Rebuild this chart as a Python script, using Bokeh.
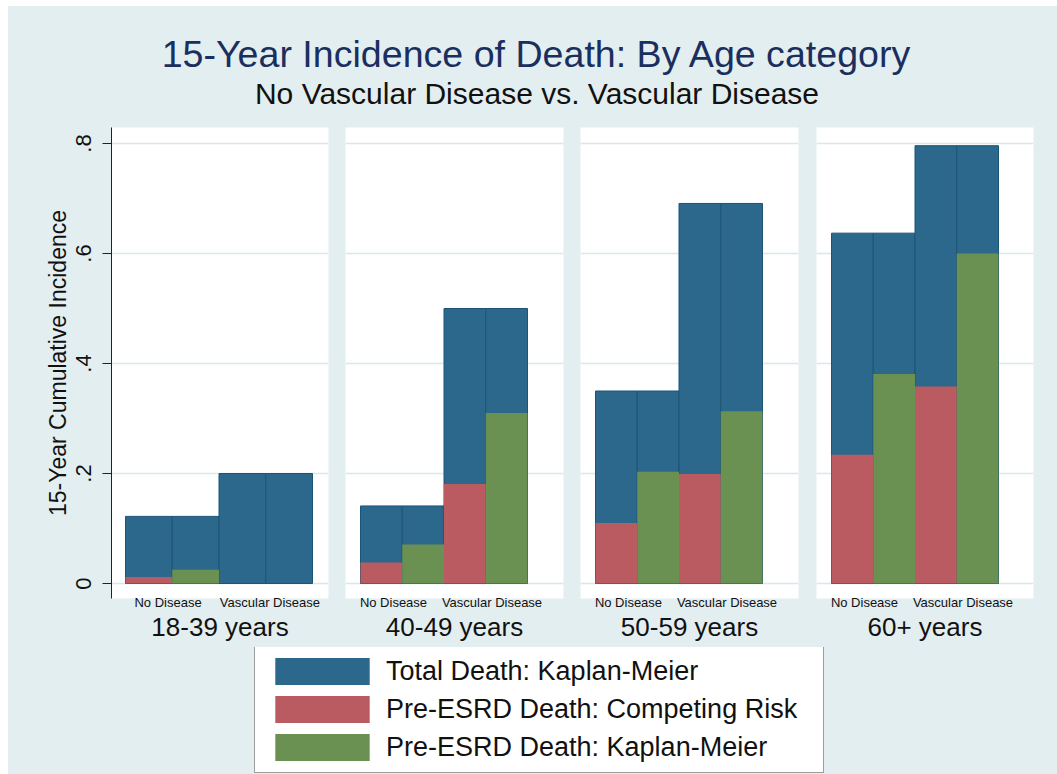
from bokeh.plotting import figure
from bokeh.layouts import row, column
from bokeh.models import (Spacer, FixedTicker, Title, Legend, LegendItem, Range1d,
                          CustomJSTickFormatter, ColumnDataSource)
from bokeh.embed import file_html
from bokeh.resources import INLINE

# ---- data -------------------------------------------------------------
age_groups = ["18-39 years", "40-49 years", "50-59 years", "60+ years"]
disease_groups = ["No Disease", "Vascular Disease"]

total_km_no_disease = [0.122, 0.141, 0.350, 0.637]
total_km_vascular = [0.200, 0.500, 0.691, 0.796]
pre_esrd_cr_no_disease = [0.012, 0.038, 0.110, 0.234]
pre_esrd_cr_vascular = [0.0, 0.181, 0.199, 0.358]
pre_esrd_km_no_disease = [0.025, 0.071, 0.203, 0.381]
pre_esrd_km_vascular = [0.0, 0.310, 0.313, 0.600]

y_ticks = [0, 0.2, 0.4, 0.6, 0.8]
y_tick_labels = ["0", ".2", ".4", ".6", ".8"]

series_labels = ["Total Death: Kaplan-Meier",
                 "Pre-ESRD Death: Competing Risk",
                 "Pre-ESRD Death: Kaplan-Meier"]

main_title = "15-Year Incidence of Death: By Age category"
sub_title = "No Vascular Disease vs. Vascular Disease"
y_title = "15-Year Cumulative Incidence"

# ---- style ------------------------------------------------------------
FONT = "Liberation Sans"
BG = "#e3eef0"
GRID = "#dbe8eb"
BLUE = "#2c688c"
BLUE_EDGE = "#1b5476"
RED = "#ba5a61"
GREEN = "#6a9151"
NAVY = "#1b2f5e"
INK = "#111111"

FRAME_H = 471
PX_PER_Y = 550.0
Y_START = -15 / PX_PER_Y
Y_END = 0.8 + 16 / PX_PER_Y

# per-panel layout (frame width, left border, right border)
frame_w = [217, 218, 218, 217]
border_l = [103, 9, 9, 9]
border_r = [8, 8, 9, 24]
TOP_B, BOTTOM_B = 18, 49


def make_panel(i):
    first = i == 0
    unit = 46.75 if first else 41.75     # pixels per bar
    lead = 14 if first else 15           # gap before first bar
    x0 = -lead / unit
    fw = frame_w[i]
    p = figure(width=border_l[i] + fw + border_r[i], height=TOP_B + FRAME_H + BOTTOM_B,
               min_border_left=border_l[i], min_border_right=border_r[i],
               min_border_top=TOP_B, min_border_bottom=BOTTOM_B,
               x_range=Range1d(x0, x0 + fw / unit),
               y_range=Range1d(Y_START, Y_END),
               output_backend="svg", toolbar_location=None,
               background_fill_color="white", border_fill_color=BG,
               outline_line_color=None)

    # bar layout: [No Disease CR, No Disease KM, Vascular CR, Vascular KM]
    xs = [0.5, 1.5, 2.5, 3.5]
    totals = [total_km_no_disease[i], total_km_no_disease[i],
              total_km_vascular[i], total_km_vascular[i]]
    p.vbar(x=xs, top=totals, bottom=0, width=1.0,
           fill_color=BLUE, line_color=BLUE_EDGE, line_width=1)
    p.vbar(x=[xs[0], xs[2]], top=[pre_esrd_cr_no_disease[i], pre_esrd_cr_vascular[i]],
           bottom=0, width=1.0, fill_color=RED, line_color=None)
    p.vbar(x=[xs[1], xs[3]], top=[pre_esrd_km_no_disease[i], pre_esrd_km_vascular[i]],
           bottom=0, width=1.0, fill_color=GREEN, line_color=None)

    # x axis: group labels + age category
    xa = p.xaxis[0]
    label_pos = [0.91, 3.09] if first else [0.79, 3.15]
    xa.ticker = FixedTicker(ticks=label_pos)
    xa.formatter = CustomJSTickFormatter(args=dict(labels=disease_groups),
                                         code="return labels[index]")
    xa.axis_line_color = None
    xa.major_tick_line_color = None
    xa.minor_tick_line_color = None
    xa.major_label_standoff = -10
    xa.major_label_text_font = FONT
    xa.major_label_text_font_size = "13px"
    xa.major_label_text_color = INK
    xa.axis_label = age_groups[i]
    xa.axis_label_text_font = FONT
    xa.axis_label_text_font_size = "26px"
    xa.axis_label_text_font_style = "normal"
    xa.axis_label_text_color = INK
    xa.axis_label_standoff = -1

    ya = p.yaxis[0]
    ya.ticker = FixedTicker(ticks=y_ticks)
    ya.formatter = CustomJSTickFormatter(args=dict(labels=y_tick_labels),
                                         code="return labels[index]")
    if first:
        ya.major_label_orientation = "vertical"
        ya.major_tick_out = 9
        ya.major_tick_in = 0
        ya.minor_tick_line_color = None
        ya.axis_line_color = "#222222"
        ya.major_tick_line_color = "#222222"
        ya.major_label_standoff = 12
        ya.major_label_text_font = FONT
        ya.major_label_text_font_size = "22px"
        ya.major_label_text_color = INK
        ya.axis_label = y_title
        ya.axis_label_text_font = FONT
        ya.axis_label_text_font_size = "23px"
        ya.axis_label_text_font_style = "normal"
        ya.axis_label_text_color = INK
        ya.axis_label_standoff = 2
    else:
        ya.visible = False

    p.xgrid.visible = False
    p.ygrid.grid_line_color = GRID
    p.ygrid.grid_line_width = 1.5
    return p


panels = [make_panel(i) for i in range(4)]

# ---- title block ------------------------------------------------------
tf = figure(width=1049, height=103, x_range=Range1d(0, 1), y_range=Range1d(0, 1),
            x_axis_location=None, y_axis_location=None,
            min_border_top=0, min_border_bottom=0,
            min_border_left=8, min_border_right=0,
            output_backend="svg", toolbar_location=None,
            background_fill_alpha=0, border_fill_color=BG, outline_line_color=None)
tf.grid.visible = False
tf.add_layout(Title(text=main_title, align="center", text_font=FONT,
                    text_font_size="37.6px", text_font_style="normal",
                    text_color=NAVY, standoff=0), "below")
tf.add_layout(Title(text=sub_title, align="center", text_font=FONT,
                    text_font_size="30px", text_font_style="normal",
                    text_color=INK, standoff=0), "below")

# ---- legend block -----------------------------------------------------
lf = figure(width=1049, height=127, x_range=Range1d(0, 1), y_range=Range1d(0, 1),
            x_axis_location=None, y_axis_location=None, min_border=0,
            output_backend="svg", toolbar_location=None,
            background_fill_alpha=0, border_fill_color=BG, outline_line_color=None)
lf.grid.visible = False
# zero-height keys: they only supply the legend swatches
key_source = ColumnDataSource(data=dict(x=[0.0], top=[0.0]))
swatches = [lf.vbar(x="x", top="top", bottom=0, width=0, source=key_source,
                    fill_color=c, line_color=None)
            for c in (BLUE, RED, GREEN)]
legend = Legend(items=[LegendItem(label=lab, renderers=[r])
                       for lab, r in zip(series_labels, swatches)],
                location=(238, 1), orientation="vertical",
                glyph_width=118, glyph_height=34, label_height=34,
                spacing=4, padding=8, margin=0,
                label_standoff=5, label_width=429,
                label_text_font=FONT, label_text_font_size="27px",
                label_text_color=INK,
                border_line_color="#3c3c3c", border_line_width=1,
                background_fill_color="white", background_fill_alpha=1.0)
lf.add_layout(legend, "center")

chart = column(tf, row(*panels, styles={"background-color": BG}), lf,
               styles={"background-color": BG})
layout = column(
    Spacer(width=1057, height=6),
    row(Spacer(width=8, height=768), chart),
)

open("out.html", "w").write(file_html(layout, INLINE))
